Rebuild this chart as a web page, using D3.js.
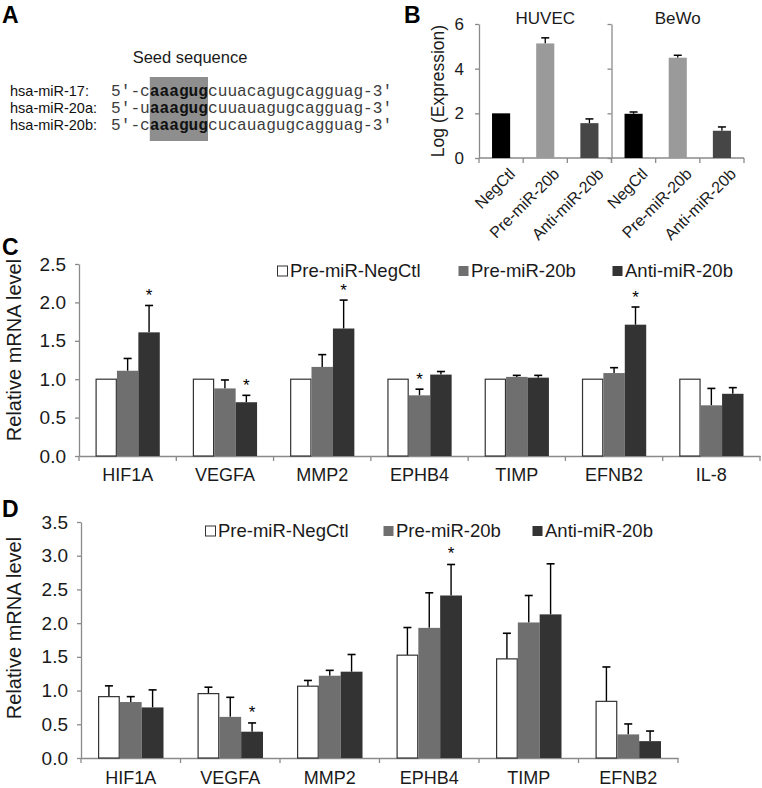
<!DOCTYPE html>
<html><head><meta charset="utf-8">
<script src="https://cdn.jsdelivr.net/npm/d3@7"></script>
<style>
body{margin:0;background:#fff}
svg{display:block}
text{font-family:Arial,"Liberation Sans",sans-serif}
text.mono{font-family:"Liberation Mono","DejaVu Sans Mono",monospace}
</style>
</head><body>
<svg id="fig" width="762" height="788"></svg>
<script>
// ---------- Panel A data ----------
const mirNames  = ["hsa-miR-17:", "hsa-miR-20a:", "hsa-miR-20b:"];
const mirPrefix = ["5\u2032-c", "5\u2032-u", "5\u2032-c"];
const mirSeed   = ["aaagug", "aaagug", "aaagug"];
const mirSuffix = ["cuuacagugcagguag-3\u2032", "cuuauagugcagguag-3\u2032", "cucauagugcagguag-3\u2032"];

// ---------- Panel B data ----------
const bGroups   = ["NegCtl", "Pre-miR-20b", "Anti-miR-20b"];
const bCells    = ["HUVEC", "BeWo"];
const bHUVEC    = [2.00, 5.13, 1.56];
const bHUVECerr = [0.00, 0.25, 0.19];
const bBeWo     = [1.98, 4.49, 1.22];
const bBeWoErr  = [0.08, 0.11, 0.17];
const bTicks    = [0, 2, 4, 6];

// ---------- Panel C data ----------
const seriesNames = ["Pre-miR-NegCtl", "Pre-miR-20b", "Anti-miR-20b"];
const cGenes     = ["HIF1A", "VEGFA", "MMP2", "EPHB4", "TIMP", "EFNB2", "IL-8"];
const cNegCtl    = [1.00, 1.00, 1.00, 1.00, 1.00, 1.00, 1.00];
const cNegCtlErr = [0, 0, 0, 0, 0, 0, 0];
const cPre       = [1.11, 0.88, 1.16, 0.79, 1.03, 1.08, 0.66];
const cPreErr    = [0.16, 0.11, 0.16, 0.08, 0.02, 0.07, 0.22];
const cAnti      = [1.61, 0.70, 1.66, 1.06, 1.02, 1.71, 0.81];
const cAntiErr   = [0.35, 0.09, 0.37, 0.04, 0.03, 0.23, 0.08];
const cStars     = [["HIF1A", 2], ["VEGFA", 2], ["MMP2", 2], ["EPHB4", 1], ["EFNB2", 2]];
const cTicks     = [0, 0.5, 1.0, 1.5, 2.0, 2.5];

// ---------- Panel D data ----------
const dGenes     = ["HIF1A", "VEGFA", "MMP2", "EPHB4", "TIMP", "EFNB2"];
const dNegCtl    = [0.91, 0.955, 1.065, 1.525, 1.47, 0.84];
const dNegCtlErr = [0.16, 0.095, 0.085, 0.41, 0.38, 0.51];
const dPre       = [0.83, 0.61, 1.22, 1.93, 2.01, 0.35];
const dPreErr    = [0.08, 0.29, 0.08, 0.52, 0.40, 0.155];
const dAnti      = [0.75, 0.39, 1.28, 2.41, 2.13, 0.25];
const dAntiErr   = [0.26, 0.13, 0.255, 0.46, 0.75, 0.15];
const dStars     = [["VEGFA", 2], ["EPHB4", 2]];
const dTicks     = [0, 0.5, 1.0, 1.5, 2.0, 2.5, 3.0, 3.5];

// ---------- styling ----------
const AXIS = "#8a8a8a", TXT = "#1a1a1a";
const FONT = "Arial,'Liberation Sans',sans-serif";
const seriesFill = ["#ffffff", "#6f6f6f", "#333333"];
const bFill = ["#000000", "#9a9a9a", "#464646"];

const svg = d3.select("#fig");

function panelLetter(t, x, y) {
  svg.append("text").attr("x", x).attr("y", y).attr("font-size", 23)
    .attr("font-weight", "bold").attr("fill", "#000").text(t);
}

// ================= Panel A =================
panelLetter("A", 2, 23);
(function () {
  const g = svg.append("g");
  const rowY = d3.scalePoint().domain(mirNames).range([96, 130]);
  const charW = 9.7;
  const seqX = 111;
  const boxX0 = seqX + 4 * charW, boxX1 = seqX + 10 * charW;
  g.append("rect").attr("x", boxX0).attr("y", 77).attr("width", boxX1 - boxX0)
    .attr("height", 64).attr("fill", "#8e8e8e");
  g.append("text").attr("x", 190).attr("y", 63).attr("text-anchor", "middle")
    .attr("font-size", 16.5).attr("fill", TXT).text("Seed sequence");
  mirNames.forEach((n, i) => {
    const y = rowY(n);
    g.append("text").attr("x", 10).attr("y", y).attr("font-size", 14.5).attr("fill", "#111").text(n);
    const t = g.append("text").attr("class", "mono").attr("x", seqX).attr("y", y)
      .attr("font-size", charW / 0.6).attr("fill", "#3c3c3c");
    t.append("tspan").text(mirPrefix[i]);
    t.append("tspan").attr("font-weight", "bold").attr("fill", "#111").text(mirSeed[i]);
    t.append("tspan").text(mirSuffix[i]);
  });
})();

// ================= Panel B =================
panelLetter("B", 404, 23);
(function () {
  const g = svg.append("g");
  const y = d3.scaleLinear().domain([0, 6]).range([158, 24]);
  const cellX = d3.scaleBand().domain(bCells).range([479, 744]);
  const vals = [bHUVEC, bBeWo], errs = [bHUVECerr, bBeWoErr];
  bCells.forEach((cell, ci) => {
    const x0 = cellX(cell), x1 = x0 + cellX.bandwidth();
    const x = d3.scaleBand().domain(bGroups).range([x0, x1]).paddingInner(0.59).paddingOuter(0.295);
    const ax = g.append("g").attr("transform", `translate(${x0},0)`)
      .call(d3.axisLeft(y).tickValues(bTicks).tickSize(4).tickSizeOuter(0).tickPadding(11)
        .tickFormat(ci === 0 ? d3.format("d") : () => ""));
    ax.select(".domain").attr("stroke", AXIS).attr("stroke-width", 1.3);
    ax.selectAll(".tick line").attr("stroke", AXIS).attr("stroke-width", 1.3);
    ax.selectAll(".tick text").attr("font-size", 17).attr("fill", TXT).attr("font-family", FONT);
    g.append("line").attr("x1", x0).attr("x2", x1).attr("y1", y(0)).attr("y2", y(0))
      .attr("stroke", AXIS).attr("stroke-width", 1.3);
    const bounds = [x0].concat(bGroups.slice(1).map(d => x(d) - x.step() * x.paddingInner() / 2)).concat([x1]);
    g.selectAll(null).data(bounds).join("line")
      .attr("x1", d => d).attr("x2", d => d).attr("y1", y(0)).attr("y2", y(0) + 5)
      .attr("stroke", AXIS).attr("stroke-width", 1.3);
    g.append("text").attr("x", (x0 + x1) / 2).attr("y", 24).attr("text-anchor", "middle")
      .attr("font-size", 17).attr("fill", TXT).text(cell);
    bGroups.forEach((grp, k) => {
      const cx = x(grp) + x.bandwidth() / 2;
      const top = vals[ci][k] + errs[ci][k];
      if (errs[ci][k] > 0) {
        g.append("line").attr("x1", cx).attr("x2", cx).attr("y1", y(vals[ci][k])).attr("y2", y(top))
          .attr("stroke", "#000").attr("stroke-width", 1.3);
        g.append("line").attr("x1", cx - 4).attr("x2", cx + 4).attr("y1", y(top)).attr("y2", y(top))
          .attr("stroke", "#000").attr("stroke-width", 1.5);
      }
    });
    g.selectAll(null).data(bGroups).join("rect")
      .attr("x", d => x(d)).attr("width", x.bandwidth())
      .attr("y", (d, k) => y(vals[ci][k])).attr("height", (d, k) => y(0) - y(vals[ci][k]))
      .attr("fill", (d, k) => bFill[k]);
    g.selectAll(null).data(bGroups).join("text")
      .attr("transform", d => `translate(${x(d) + x.bandwidth() / 2 + 7},${y(0) + 9}) rotate(-45)`)
      .attr("text-anchor", "end").attr("dy", "0.71em").attr("font-size", 16).attr("fill", TXT)
      .text(d => d);
  });
  g.append("text").attr("transform", `translate(438,${(y(0) + y(6)) / 2}) rotate(-90)`)
    .attr("dy", "0.35em").attr("text-anchor", "middle").attr("font-size", 17.5).attr("fill", TXT)
    .text("Log (Expression)");
})();

// ================= Panels C & D =================
function groupedPanel(opt) {
  const g = svg.append("g");
  const y = d3.scaleLinear().domain([0, opt.max]).range([opt.y0, opt.y1]);
  const x0 = d3.scaleBand().domain(opt.genes).range([opt.xl, opt.xr]);
  const x1 = d3.scaleBand().domain(seriesNames).range([opt.pad, x0.bandwidth() - opt.pad]);
  const vals = opt.values, errs = opt.errs;

  const ya = g.append("g").attr("transform", `translate(${opt.xl},0)`)
    .call(d3.axisLeft(y).tickValues(opt.ticks).tickSize(4).tickSizeOuter(0).tickPadding(9)
      .tickFormat(d3.format(".1f")));
  ya.select(".domain").attr("stroke", AXIS).attr("stroke-width", 1.3);
  ya.selectAll(".tick line").attr("stroke", AXIS).attr("stroke-width", 1.3);
  ya.selectAll(".tick text").attr("font-size", 19).attr("fill", TXT).attr("font-family", FONT);

  const xa = g.append("g").attr("transform", `translate(0,${opt.y0})`)
    .call(d3.axisBottom(x0).tickSize(0).tickPadding(opt.labPad));
  xa.select(".domain").attr("stroke", AXIS).attr("stroke-width", 1.3);
  xa.selectAll(".tick text").attr("font-size", 18).attr("fill", TXT).attr("font-family", FONT);
  const bounds = opt.genes.map(d => x0(d)).concat([opt.xr]);
  g.selectAll(null).data(bounds).join("line")
    .attr("x1", d => d).attr("x2", d => d).attr("y1", opt.y0).attr("y2", opt.y0 + 5)
    .attr("stroke", AXIS).attr("stroke-width", 1.3);

  const flat = [];
  opt.genes.forEach((gene, i) => seriesNames.forEach((s, k) => {
    flat.push({gene, s, k, v: vals[k][i], e: errs[k][i]});
  }));
  const cx = d => x0(d.gene) + x1(d.s) + x1.bandwidth() / 2;
  const eb = g.selectAll(null).data(flat.filter(d => d.e > 0)).join("g");
  eb.append("line").attr("x1", cx).attr("x2", cx)
    .attr("y1", d => y(d.v)).attr("y2", d => y(d.v + d.e))
    .attr("stroke", "#000").attr("stroke-width", 1.4);
  eb.append("line").attr("x1", d => cx(d) - 4).attr("x2", d => cx(d) + 4)
    .attr("y1", d => y(d.v + d.e)).attr("y2", d => y(d.v + d.e))
    .attr("stroke", "#000").attr("stroke-width", 1.6);
  g.selectAll(null).data(flat).join("rect")
    .attr("x", d => x0(d.gene) + x1(d.s) + (d.k === 0 ? 0.6 : 0))
    .attr("width", d => x1.bandwidth() - (d.k === 0 ? 1.2 : 0))
    .attr("y", d => y(d.v)).attr("height", d => y(0) - y(d.v))
    .attr("fill", d => seriesFill[d.k])
    .attr("stroke", d => d.k === 0 ? "#333" : "none").attr("stroke-width", 1.2);

  g.selectAll(null).data(opt.stars).join("text")
    .attr("x", d => x0(d[0]) + x1(seriesNames[d[1]]) + x1.bandwidth() / 2)
    .attr("y", d => {
      const i = opt.genes.indexOf(d[0]);
      return y(vals[d[1]][i] + errs[d[1]][i]) - opt.starGap;
    })
    .attr("text-anchor", "middle").attr("font-size", 17).attr("fill", "#000").text("*");

  seriesNames.forEach((s, k) => {
    const lx = opt.legendX[k];
    g.append("rect").attr("x", lx + 0.5).attr("y", opt.legendY - 5).attr("width", 10).attr("height", 10)
      .attr("fill", seriesFill[k]).attr("stroke", k === 0 ? "#333" : "none").attr("stroke-width", 1);
    g.append("text").attr("x", lx + 13).attr("y", opt.legendY).attr("dy", "0.35em")
      .attr("font-size", 18.5).attr("fill", TXT).text(s);
  });

  g.append("text").attr("transform", `translate(${opt.titleX},${opt.titleY}) rotate(-90)`)
    .attr("dy", "0.35em").attr("text-anchor", "middle").attr("font-size", 20).attr("fill", TXT)
    .text("Relative mRNA level");
}

panelLetter("C", 2, 255);
groupedPanel({
  genes: cGenes, values: [cNegCtl, cPre, cAnti], errs: [cNegCtlErr, cPreErr, cAntiErr],
  max: 2.5, ticks: cTicks, y0: 456, y1: 264, xl: 79, xr: 760, pad: 16.5, labPad: 12,
  stars: cStars, starGap: 4, legendX: [277, 458, 612], legendY: 271, titleX: 14, titleY: 350
});

panelLetter("D", 2, 517);
groupedPanel({
  genes: dGenes, values: [dNegCtl, dPre, dAnti], errs: [dNegCtlErr, dPreErr, dAntiErr],
  max: 3.5, ticks: dTicks, y0: 758, y1: 522, xl: 81, xr: 678, pad: 17, labPad: 13,
  stars: dStars, starGap: 5, legendX: [205, 383, 532], legendY: 531, titleX: 14, titleY: 628
});
</script>
</body></html>
